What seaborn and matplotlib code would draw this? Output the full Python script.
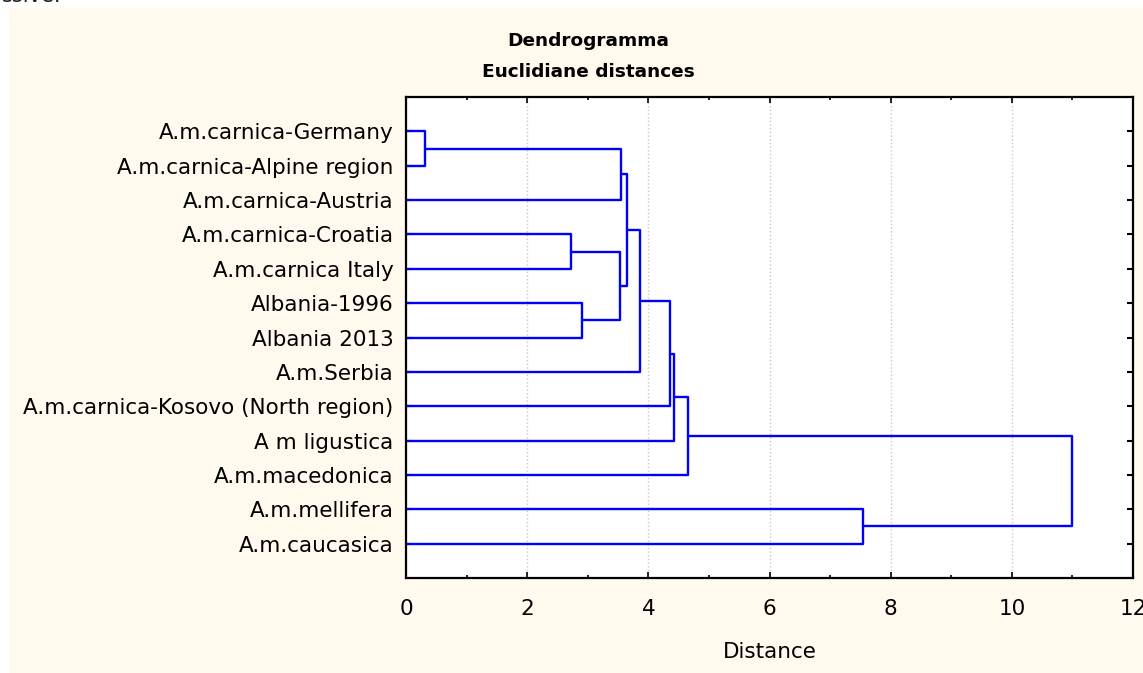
import numpy as np
import pandas as pd
import matplotlib
matplotlib.use('Agg')
import matplotlib.pyplot as plt
import seaborn as sns

# leaf labels, top to bottom
labels = ['A.m.carnica-Germany', 'A.m.carnica-Alpine region', 'A.m.carnica-Austria',
          'A.m.carnica-Croatia', 'A.m.carnica Italy', 'Albania-1996', 'Albania 2013',
          'A.m.Serbia', 'A.m.carnica-Kosovo (North region)', 'A m ligustica',
          'A.m.macedonica', 'A.m.mellifera', 'A.m.caucasica']

# linkage: children (leaf index or 13+merge index) and join distance
left_child = [0, 13, 3, 5, 15, 14, 18, 19, 20, 21, 11, 22]
right_child = [1, 2, 4, 6, 16, 17, 7, 8, 9, 10, 12, 23]
heights = [0.31, 3.55, 2.72, 2.90, 3.53, 3.64, 3.87, 4.35, 4.43, 4.66, 7.54, 10.99]

x_ticks = [0, 2, 4, 6, 8, 10, 12]

# build the U-shaped links of the dendrogram
n = len(labels)
pos = {i: i + 1 for i in range(n)}
hgt = {i: 0.0 for i in range(n)}
rows = []
for k, (a, b, h) in enumerate(zip(left_child, right_child, heights)):
    pts = [(hgt[a], pos[a]), (h, pos[a]), (h, pos[b]), (hgt[b], pos[b])]
    for j, (d, p) in enumerate(pts):
        rows.append({'link': k, 'order': j, 'dist': d, 'pos': p})
    pos[n + k] = (pos[a] + pos[b]) / 2
    hgt[n + k] = h
df = pd.DataFrame(rows)

sns.set_style('white')
plt.rcParams['font.family'] = ['DejaVu Sans']
plt.rcParams['text.color'] = 'black'
plt.rcParams['axes.labelcolor'] = 'black'
plt.rcParams['xtick.color'] = 'black'
plt.rcParams['ytick.color'] = 'black'

fig = plt.figure(figsize=(11.43, 6.73), dpi=100)
fig.patch.set_facecolor('white')
# cream page background
fig.patches.append(plt.Rectangle((9 / 1143, 0), 1, 1 - 8 / 673, transform=fig.transFigure,
                                 facecolor='#fff9ee', edgecolor='none', zorder=-10))
fig.text(0.002, 1 - 2 / 673, 'ssive.', fontsize=15, va='baseline', color='#222222')

ax = fig.add_axes([406 / 1143, 95 / 673, 727 / 1143, 481 / 673])
ax.set_facecolor('white')

sns.lineplot(data=df, x='dist', y='pos', units='link', estimator=None, sort=False,
             color='#0000ff', linewidth=1.7, legend=False, ax=ax)

ax.set_xlim(0, 12)
ax.set_ylim(n + 1, 0)
ax.set_xticks(x_ticks)
ax.set_xticks(np.arange(1, 12, 2), minor=True)
ax.set_yticks(range(1, n + 1))
ax.set_yticklabels(labels)
ax.grid(axis='x', color='#c8c8c8', linestyle=':', linewidth=1)
ax.tick_params(axis='both', which='both', direction='in', top=True, right=True,
               left=True, bottom=True, color='black')
ax.tick_params(axis='x', which='major', length=4, width=1.2, labelsize=15.5, pad=15)
ax.tick_params(axis='x', which='minor', length=2.5, width=1.2)
ax.tick_params(axis='y', length=4, width=1.5, labelsize=15.5, pad=9)
for s in ax.spines.values():
    s.set_color('black')
    s.set_linewidth(1.6)

ax.set_xlabel('Distance', fontsize=15.5, labelpad=17)
ax.set_ylabel('')

fig.text(588 / 1143, 1 - 46 / 673, 'Dendrogramma', ha='center', va='baseline',
         fontsize=13.3, fontweight='bold')
fig.text(588 / 1143, 1 - 77 / 673, 'Euclidiane distances', ha='center', va='baseline',
         fontsize=13.3, fontweight='bold')

fig.savefig('out.png', dpi=100)
